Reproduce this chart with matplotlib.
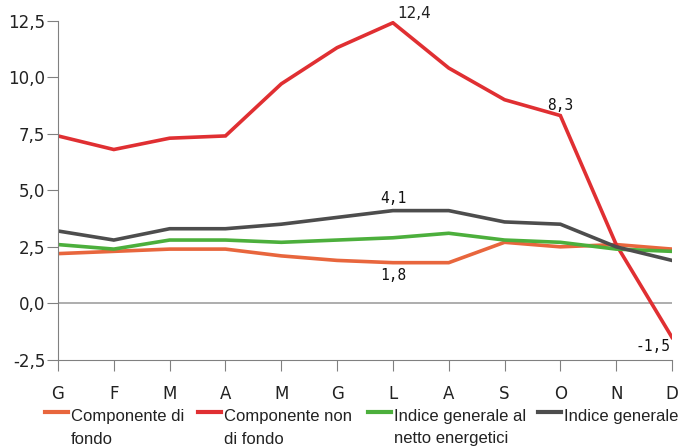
import numpy as np
import matplotlib.pyplot as plt
from matplotlib.lines import Line2D

months = ["G", "F", "M", "A", "M", "G", "L", "A", "S", "O", "N", "D"]
fondo = [2.2, 2.3, 2.4, 2.4, 2.1, 1.9, 1.8, 1.8, 2.7, 2.5, 2.6, 2.4]
non_fondo = [7.4, 6.8, 7.3, 7.4, 9.7, 11.3, 12.4, 10.4, 9.0, 8.3, 2.6, -1.5]
netto_energ = [2.6, 2.4, 2.8, 2.8, 2.7, 2.8, 2.9, 3.1, 2.8, 2.7, 2.4, 2.3]
generale = [3.2, 2.8, 3.3, 3.3, 3.5, 3.8, 4.1, 4.1, 3.6, 3.5, 2.5, 1.9]
yticks = [-2.5, 0.0, 2.5, 5.0, 7.5, 10.0, 12.5]
legend_labels = [("Componente di", "fondo"), ("Componente non", "di fondo"),
                 ("Indice generale al", "netto energetici"), ("Indice generale", "")]
colors = ["#e8663d", "#e02f32", "#4caf3c", "#4d4d4d"]

plt.rcParams['font.family'] = ['DejaVu Sans']

W, H = 681, 446
fig = plt.figure(figsize=(W / 100, H / 100), dpi=100)
ax = fig.add_axes([58 / W, 1 - 360 / H, (672 - 58) / W, (360 - 20.5) / H])
x = np.arange(len(months))

ax.axhline(0, color="#a0a0a0", lw=1.2, zorder=1)
for ys, c in zip([fondo, non_fondo, netto_energ, generale], colors):
    ax.plot(x, ys, color=c, lw=2.6, solid_joinstyle="miter")

lab = dict(fontsize=10.5, family="DejaVu Sans Mono", color="#111111")
ax.annotate("12,4", (6, 12.4), xytext=(3, 1), textcoords="offset points", ha="left", va="bottom",
            fontsize=11, family="DejaVu Sans", color="#222222")
ax.annotate("8,3", (9, 8.3), xytext=(0, 2), textcoords="offset points", ha="center", va="bottom", **lab)
ax.annotate("4,1", (6, 4.1), xytext=(0, 3), textcoords="offset points", ha="center", va="bottom", **lab)
ax.annotate("1,8", (6, 1.8), xytext=(0, -4), textcoords="offset points", ha="center", va="top", **lab)
ax.annotate("-1,5", (11, -1.5), xytext=(-1, -1), textcoords="offset points", ha="right", va="top", **lab)

ax.set_xlim(0, 11)
ax.set_ylim(-2.5, 12.5)
ax.set_xticks(x)
ax.set_xticklabels(months)
ax.set_yticks(yticks)
ax.set_yticklabels([f"{v:.1f}".replace(".", ",") for v in yticks])
for s in ["top", "right"]:
    ax.spines[s].set_visible(False)
for s in ["left", "bottom"]:
    ax.spines[s].set_color("#808080")
ax.tick_params(axis="both", colors="#808080", labelcolor="#222222", labelsize=12, length=8)
ax.tick_params(axis="x", pad=10)
ax.tick_params(axis="y", pad=1)

# legend drawn by hand: handle aligned with first text line
handle_x = [45, 198, 368, 538]
for hx, c, (l1, l2) in zip(handle_x, colors, legend_labels):
    fig.add_artist(Line2D([hx / W, (hx + 23) / W], [1 - 412 / H] * 2, color=c, lw=3,
                          transform=fig.transFigure))
    txt = dict(fontsize=12, family="Liberation Sans", color="#222222", ha="left", va="center")
    fig.text((hx + 26) / W, 1 - 416 / H, l1, **txt)
    if l2:
        fig.text((hx + 26) / W, 1 - 439 / H, l2, **txt)

fig.savefig("out.png", dpi=100)
